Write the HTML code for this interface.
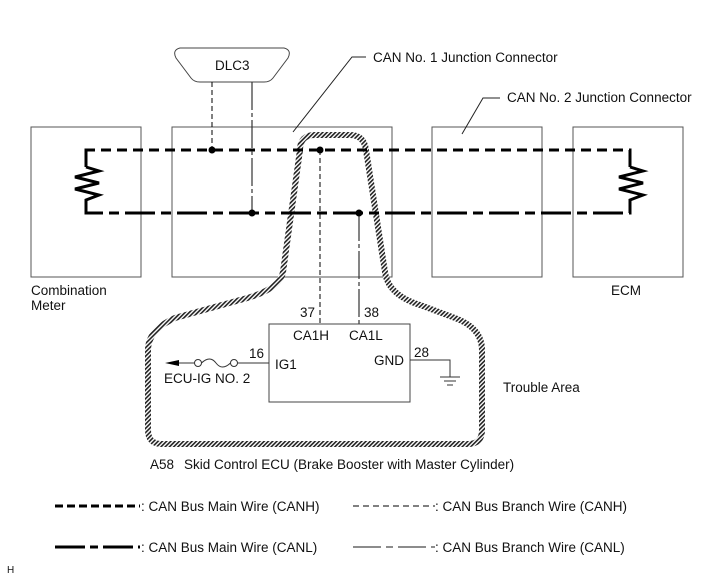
<!DOCTYPE html>
<html><head><meta charset="utf-8"><style>
html,body{margin:0;padding:0;background:#fff;}
svg{display:block;}
text{font-family:"Liberation Sans",Arial,sans-serif;font-size:13.5px;fill:#111;}
</style></head><body>
<svg width="711" height="579" viewBox="0 0 711 579" xmlns="http://www.w3.org/2000/svg">
<defs>
<pattern id="h" width="3" height="3" patternUnits="userSpaceOnUse" patternTransform="rotate(45)">
<rect width="3" height="3" fill="#fff"/><rect width="1.6" height="3" fill="#222"/>
</pattern>
</defs>
<g fill="none" stroke="#555" stroke-width="1">
<rect x="31" y="127" width="110" height="150"/>
<rect x="172" y="127" width="220" height="150"/>
<rect x="432" y="127" width="110" height="150"/>
<rect x="573" y="127" width="110" height="150"/>
</g>
<path d="M180,48 L284,48 Q292,50 288,58 L273,78 Q270,82 264,82 L200,82 Q194,82 191,78 L176,58 Q172,50 180,48 Z" fill="#fff" stroke="#444" stroke-width="1"/>
<text x="215" y="70">DLC3</text>
<polyline points="366,57 352,57 293,132" fill="none" stroke="#222" stroke-width="1"/>
<text x="373" y="62">CAN No. 1 Junction Connector</text>
<polyline points="500,98 483,98 462,134" fill="none" stroke="#222" stroke-width="1"/>
<text x="507" y="102">CAN No. 2 Junction Connector</text>
<path d="M300,150 Q300,135 315,135 L350,135 Q364,135 366,150 L385,272 Q388,295 420,305 L455,318 Q482,328 482,350 L482,430 Q482,444 468,444 L162,444 Q148,444 148,430 L148,350 Q148,330 175,318 L240,300 Q280,290 283,272 Z" fill="none" stroke="url(#h)" stroke-width="6"/>
<path d="M86,167 L86,150 L630,150 L630,167" fill="none" stroke="#000" stroke-width="3" stroke-dasharray="10,6"/>
<path d="M86,200 L86,213 L630,213 L630,200" fill="none" stroke="#000" stroke-width="3" stroke-dasharray="30,6,10,6"/>
<polyline points="86,150 86,167" stroke="#000" stroke-width="3" fill="none"/>
<polyline points="86,167 99,171 75,177 99,183 75,189 99,195 86,200 86,213" stroke="#000" stroke-width="3" fill="none"/>
<polyline points="630,150 630,167" stroke="#000" stroke-width="3" fill="none"/>
<polyline points="630,167 643,171 619,177 643,183 619,189 643,195 630,200 630,213" stroke="#000" stroke-width="3" fill="none"/>
<line x1="212" y1="82" x2="212" y2="150" stroke="#000" stroke-width="1" stroke-dasharray="5,3"/>
<line x1="252" y1="82" x2="252" y2="213" stroke="#333" stroke-width="1.2" stroke-dasharray="28,3,4,3"/>
<line x1="320" y1="150" x2="320" y2="324" stroke="#000" stroke-width="1" stroke-dasharray="5,3"/>
<line x1="359" y1="213" x2="359" y2="324" stroke="#333" stroke-width="1.2" stroke-dasharray="28,3,4,3"/>
<g fill="#000"><circle cx="212" cy="150" r="3.5"/><circle cx="252" cy="213" r="3.5"/><circle cx="320" cy="150" r="3.5"/><circle cx="359" cy="213" r="3.5"/></g>
<rect x="269" y="324" width="141" height="78" fill="#fff" stroke="#444" stroke-width="1"/>
<text x="300" y="317">37</text><text x="364" y="317">38</text>
<text x="293" y="340">CA1H</text><text x="349" y="340">CA1L</text>
<text x="275" y="369">IG1</text><text x="374" y="365">GND</text>
<text x="249" y="358">16</text><text x="414" y="357">28</text>
<line x1="178" y1="363" x2="195" y2="363" stroke="#333"/>
<polygon points="165,363 179,360 179,366" fill="#000"/>
<circle cx="198" cy="363" r="3.5" fill="#fff" stroke="#333"/>
<path d="M201.5,363 Q210,355 216,363 Q222,371 230.5,363" fill="none" stroke="#333"/>
<circle cx="234" cy="363" r="3.5" fill="#fff" stroke="#333"/>
<line x1="237.5" y1="363" x2="269" y2="363" stroke="#333"/>
<text x="164" y="383">ECU-IG NO. 2</text>
<polyline points="410,360 450,360 450,377" fill="none" stroke="#333"/>
<line x1="440" y1="377" x2="460" y2="377" stroke="#333"/>
<line x1="444" y1="381" x2="456" y2="381" stroke="#333"/>
<line x1="447" y1="385" x2="453" y2="385" stroke="#333"/>
<text x="503" y="392">Trouble Area</text>
<text x="31" y="295">Combination</text><text x="31" y="310">Meter</text>
<text x="611" y="295">ECM</text>
<text x="150" y="469">A58</text>
<text x="184" y="469">Skid Control ECU (Brake Booster with Master Cylinder)</text>
<line x1="55" y1="506" x2="140" y2="506" stroke="#000" stroke-width="3" stroke-dasharray="8,4"/>
<text x="141" y="511">: CAN Bus Main Wire (CANH)</text>
<line x1="353" y1="506" x2="435" y2="506" stroke="#000" stroke-width="1" stroke-dasharray="6,4"/>
<text x="435" y="511">: CAN Bus Branch Wire (CANH)</text>
<line x1="55" y1="547" x2="140" y2="547" stroke="#000" stroke-width="3" stroke-dasharray="30,5,8,5"/>
<text x="141" y="552">: CAN Bus Main Wire (CANL)</text>
<line x1="353" y1="547" x2="435" y2="547" stroke="#666" stroke-width="1.5" stroke-dasharray="28,5,7,5"/>
<text x="435" y="552">: CAN Bus Branch Wire (CANL)</text>
<text x="7" y="573" style="font-size:10px">H</text>
</svg>
</body></html>
